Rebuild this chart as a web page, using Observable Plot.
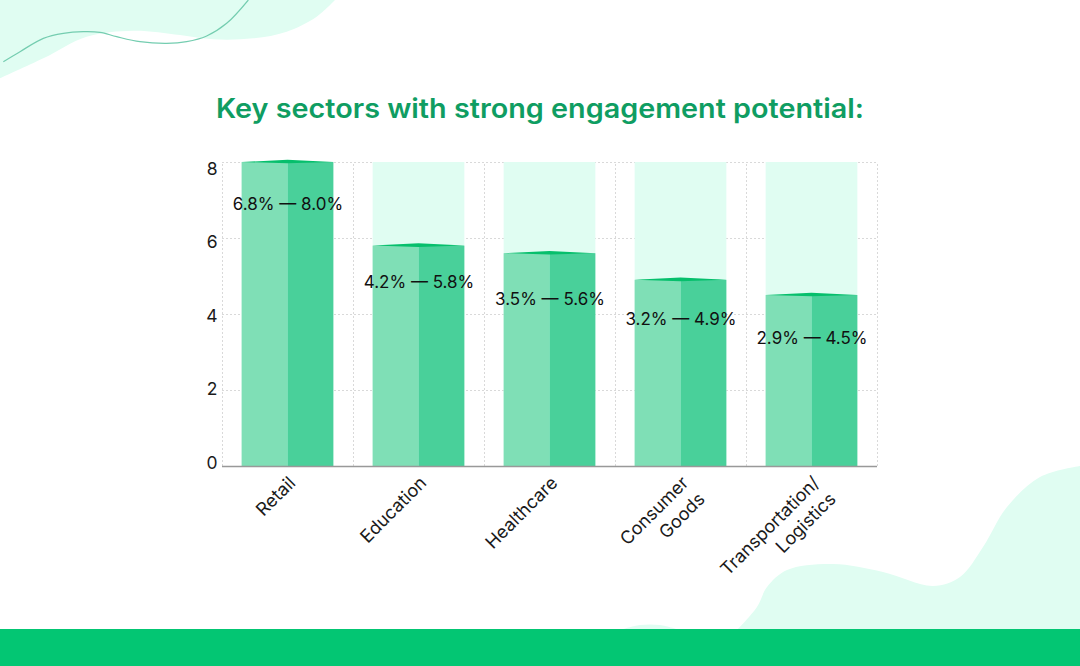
<!DOCTYPE html>
<html>
<head>
<meta charset="utf-8">
<script src="https://cdn.jsdelivr.net/npm/d3@7"></script>
<script src="https://cdn.jsdelivr.net/npm/@observablehq/plot@0.6"></script>
<style>
html,body{margin:0;padding:0;background:#fff;}
#page{position:relative;width:1080px;height:666px;overflow:hidden;font-family:Inter,sans-serif;}
#bg{position:absolute;left:0;top:0;}
#title{position:absolute;left:216px;top:90px;font:600 27px/38px Inter,sans-serif;color:#0f9d62;white-space:nowrap;transform-origin:0 50%;}
#chart{position:absolute;left:0;top:140px;}
#footer{position:absolute;left:0;top:629px;width:1080px;height:37px;background:#03c673;}
</style>
</head>
<body>
<div id="page">
<svg id="bg" width="1080" height="666"></svg>
<div id="title">Key sectors with strong engagement potential:</div>
<div id="chart"></div>
<div id="footer"></div>
</div>
<script>
const categories = ["Retail", "Education", "Healthcare", "Consumer\nGoods", "Transportation/\nLogistics"];
const lowValues = [6.8, 4.2, 3.5, 3.2, 2.9];
const highValues = [8.0, 5.8, 5.6, 4.9, 4.5];
const labelLevels = [6.9, 4.85, 4.4, 3.88, 3.37];
const yTicks = [0, 2, 4, 6, 8];
const yMax = 8;

const rows = categories.map((name, i) => ({
  name, i,
  low: lowValues[i], high: highValues[i], level: labelLevels[i],
  label: `${lowValues[i].toFixed(1)}% — ${highValues[i].toFixed(1)}%`
}));
const caps = rows.flatMap(d => [
  {i: d.i, x: d.i + 0.15, y1: d.high, y2: d.high},
  {i: d.i, x: d.i + 0.5, y1: d.high + 0.06, y2: d.high - 0.035},
  {i: d.i, x: d.i + 0.85, y1: d.high, y2: d.high}
]);
const boundaries = d3.range(0, categories.length + 1);

const grid = {stroke: "#d9d9d9", strokeWidth: 1, strokeDasharray: "2,2"};
const chart = Plot.plot({
  width: 1080, height: 460,
  marginLeft: 222, marginRight: 203, marginTop: 22, marginBottom: 134,
  style: {background: "transparent", fontFamily: "Inter, sans-serif", fontSize: "17px", color: "#222"},
  x: {type: "linear", domain: [0, categories.length], axis: null},
  y: {domain: [0, yMax], axis: null},
  marks: [
    Plot.ruleY(yTicks.filter(t => t > 0), grid),
    Plot.ruleX(boundaries, {...grid, y1: 0, y2: yMax}),
    Plot.rect(rows, {x1: d => d.i + 0.15, x2: d => d.i + 0.85, y1: 0, y2: yMax, fill: "#e0fdf2"}),
    Plot.rect(rows, {x1: d => d.i + 0.15, x2: d => d.i + 0.5, y1: 0, y2: "high", fill: "#7fdfb6"}),
    Plot.rect(rows, {x1: d => d.i + 0.5, x2: d => d.i + 0.85, y1: 0, y2: "high", fill: "#49d09a"}),
    Plot.area(caps, {x1: "x", y1: "y1", y2: "y2", z: "i", fill: "#06bf6c"}),
    Plot.ruleY([0], {stroke: "#999", strokeWidth: 1.5}),
    ...yTicks.map(t => Plot.text([t], {
      x: 0, y: d => d, text: d => String(d), textAnchor: "end", dx: -5,
      dy: 6.5 - (yMax - t) * 1.25, fontSize: 17.5, fill: "#1a1a1a"
    })),
    Plot.text(rows, {
      x: d => d.i + 0.5, y: "level", text: "label", textAnchor: "middle",
      fontSize: 17, fill: "#111"
    }),
    Plot.text(rows, {
      x: d => d.i + 0.5, y: 0, text: "name", rotate: -45, textAnchor: "end", lineAnchor: "top",
      lineHeight: 1.28, dx: -3, dy: 6, fontSize: 18, fill: "#1a1a1a"
    })
  ]
});
document.getElementById("chart").appendChild(chart);

// title fitted to its measured span in the reference
const titleEl = document.getElementById("title");
titleEl.style.transform = `scaleX(${648 / titleEl.getBoundingClientRect().width})`;

// decorative background shapes
const scaled = pts => pts.map(([x, y]) => [x / 3, y / 3]);
const topBlob = scaled([[0,235],[130,175],[260,110],[400,92],[540,105],[640,118],[760,115],[860,95],[950,50],[1005,0]]);
const topCurve = scaled([[10,185],[60,155],[130,115],[190,100],[250,95],[300,97],[350,110],[420,125],[500,130],[560,125],[620,108],[680,70],[745,0]]);
const lowBlob = [[737,630],[757,607],[767,587],[787,570],[833,564],[883,572],[933,586],[960,577],[983,547],[1007,507],[1040,477],[1080,466]];
const lowBump = [[620,630],[640,625],[660,625],[680,630]];
const curve = d3.line().curve(d3.curveCatmullRom);
const bg = d3.select("#bg");
bg.append("path").attr("d", curve(topBlob) + "L0,0Z").attr("fill", "#e0fdf2");
bg.append("path").attr("d", curve(topCurve)).attr("fill", "none").attr("stroke", "#74cdb0").attr("stroke-width", 1.2);
bg.append("path").attr("d", curve(lowBlob) + "L1080,630Z").attr("fill", "#e0fdf2");
bg.append("path").attr("d", curve(lowBump) + "Z").attr("fill", "#e0fdf2");
</script>
</body>
</html>
